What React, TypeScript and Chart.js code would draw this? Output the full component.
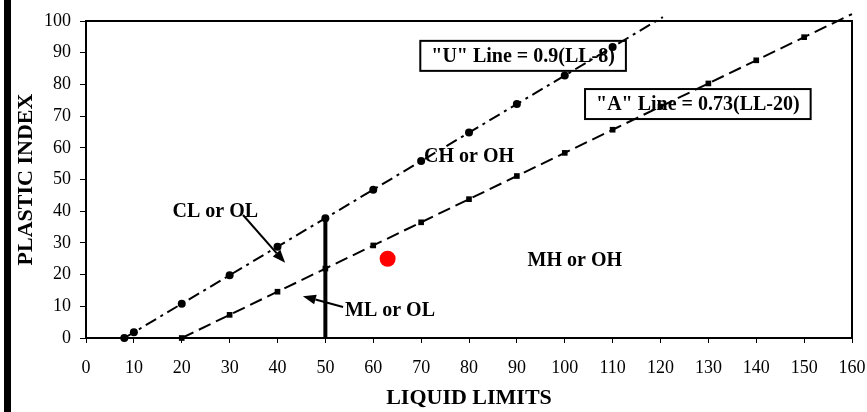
import React, { useEffect, useRef } from "react";
import { Chart, registerables } from "chart.js";

Chart.register(...registerables);

// "U" line: PI = 0.9(LL-8)
const uLineLL = [8, 10, 20, 30, 40, 50, 60, 70, 80, 90, 100, 110, 120.5];
const uLinePI = [0, 1.8, 10.8, 19.8, 28.8, 37.8, 46.8, 55.8, 64.8, 73.8, 82.8, 91.8, 101.25];
// "A" line: PI = 0.73(LL-20)
const aLineLL = [20, 30, 40, 50, 60, 70, 80, 90, 100, 110, 120, 130, 140, 150, 160];
const aLinePI = [0, 7.3, 14.6, 21.9, 29.2, 36.5, 43.8, 51.1, 58.4, 65.7, 73.0, 80.3, 87.6, 94.9, 102.2];
// LL = 50 boundary
const boundaryLL = [50, 50];
const boundaryPI = [0, 37.8];
// sample point
const sampleLL = [63];
const samplePI = [25];

const xMin = 0;
const xMax = 160;
const xStep = 10;
const yMin = 0;
const yMax = 100;
const yStep = 10;

const xTitle = "LIQUID LIMITS";
const yTitle = "PLASTIC INDEX";

const regionLabels = [
  { text: "CL or OL", x: 27, y: 39.7 },
  { text: "CH or OH", x: 80, y: 57.1 },
  { text: "MH or OH", x: 102.1, y: 24.3 },
  { text: "ML or OL", x: 63.5, y: 8.5 },
];
const equationBoxes = [
  { text: '"U" Line = 0.9(LL-8)', x: 91.3, y: 89.0 },
  { text: '"A" Line = 0.73(LL-20)', x: 127.8, y: 73.8 },
];
const arrows = [
  { fx: 32.8, fy: 38.8, tx: 41.6, ty: 23.7 },
  { fx: 53.7, fy: 9.8, tx: 45.3, ty: 13.2 },
];

const FONT = "'Liberation Serif', 'Times New Roman', serif";

const toPts = (xs: number[], ys: number[]) => xs.map((x, i) => ({ x, y: ys[i] }));

const overlayPlugin = {
  id: "overlay",
  beforeDraw(chart: any) {
    const ctx = chart.ctx;
    ctx.save();
    ctx.fillStyle = "#000";
    ctx.fillRect(4, 0, 7, chart.height);
    ctx.restore();
  },
  beforeDatasetsDraw(chart: any) {
    const ctx = chart.ctx;
    const xs = chart.scales.x;
    const ys = chart.scales.y;
    ctx.save();
    ctx.font = `bold 20px ${FONT}`;
    ctx.textAlign = "center";
    ctx.textBaseline = "middle";
    for (const b of equationBoxes) {
      const cx = xs.getPixelForValue(b.x);
      const cy = ys.getPixelForValue(b.y);
      const w = ctx.measureText(b.text).width + 22;
      const h = 30;
      ctx.fillStyle = "#fff";
      ctx.fillRect(cx - w / 2, cy - h / 2, w, h);
      ctx.strokeStyle = "#000";
      ctx.lineWidth = 2;
      ctx.strokeRect(cx - w / 2, cy - h / 2, w, h);
      ctx.fillStyle = "#000";
      ctx.fillText(b.text, cx, cy + 1);
    }
    ctx.restore();
  },
  afterDatasetsDraw(chart: any) {
    const ctx = chart.ctx;
    const xs = chart.scales.x;
    const ys = chart.scales.y;
    ctx.save();
    ctx.font = `bold 20px ${FONT}`;
    ctx.textAlign = "center";
    ctx.textBaseline = "middle";
    ctx.fillStyle = "#000";
    for (const l of regionLabels) {
      ctx.fillText(l.text, xs.getPixelForValue(l.x), ys.getPixelForValue(l.y));
    }
    ctx.strokeStyle = "#000";
    ctx.lineWidth = 2;
    for (const a of arrows) {
      const x1 = xs.getPixelForValue(a.fx);
      const y1 = ys.getPixelForValue(a.fy);
      const x2 = xs.getPixelForValue(a.tx);
      const y2 = ys.getPixelForValue(a.ty);
      const ang = Math.atan2(y2 - y1, x2 - x1);
      const hl = 13;
      const hw = 5;
      const bx = x2 - hl * Math.cos(ang);
      const by = y2 - hl * Math.sin(ang);
      ctx.beginPath();
      ctx.moveTo(x1, y1);
      ctx.lineTo(bx, by);
      ctx.stroke();
      ctx.beginPath();
      ctx.moveTo(x2, y2);
      ctx.lineTo(bx + hw * Math.sin(ang), by - hw * Math.cos(ang));
      ctx.lineTo(bx - hw * Math.sin(ang), by + hw * Math.cos(ang));
      ctx.closePath();
      ctx.fill();
    }
    ctx.restore();
  },
  afterDraw(chart: any) {
    const { left, right, top, bottom } = chart.chartArea;
    const ctx = chart.ctx;
    ctx.save();
    ctx.strokeStyle = "#000";
    ctx.lineWidth = 2;
    ctx.beginPath();
    ctx.moveTo(left, top);
    ctx.lineTo(right, top);
    ctx.lineTo(right, bottom);
    ctx.stroke();
    ctx.restore();
  },
};

export default function App() {
  const ref = useRef<HTMLCanvasElement | null>(null);

  useEffect(() => {
    if (!ref.current) return;
    const chart = new Chart(ref.current, {
      type: "scatter",
      data: {
        datasets: [
          {
            label: "Sample",
            data: toPts(sampleLL, samplePI),
            pointRadius: 8,
            pointBackgroundColor: "#ff0000",
            pointBorderWidth: 0,
            showLine: false,
          },
          {
            label: "U line",
            data: toPts(uLineLL, uLinePI),
            showLine: true,
            borderColor: "#000",
            borderWidth: 2,
            borderDash: [12, 5, 3, 5],
            pointStyle: "circle",
            pointRadius: uLineLL.map((_, i) => (i === uLineLL.length - 1 ? 0 : 4)),
            pointBackgroundColor: "#000",
            pointBorderColor: "#000",
            pointBorderWidth: 0,
            clip: false,
          },
          {
            label: "A line",
            data: toPts(aLineLL, aLinePI),
            showLine: true,
            borderColor: "#000",
            borderWidth: 2,
            borderDash: [13, 6],
            pointStyle: "rect",
            pointRadius: aLineLL.map((_, i) => (i === aLineLL.length - 1 ? 0 : 4)),
            pointBackgroundColor: "#000",
            pointBorderColor: "#000",
            pointBorderWidth: 0,
            clip: false,
          },
          {
            label: "LL 50",
            data: toPts(boundaryLL, boundaryPI),
            showLine: true,
            borderColor: "#000",
            borderWidth: 4,
            pointRadius: 0,
          },
        ],
      },
      options: {
        animation: false,
        responsive: false,
        events: [],
        layout: { padding: { top: 21, right: 15, left: 0, bottom: 0 } },
        plugins: { legend: { display: false }, tooltip: { enabled: false } },
        scales: {
          x: {
            type: "linear",
            min: xMin,
            max: xMax,
            afterFit: (s: any) => {
              s.height = 74;
              s.paddingRight = 0;
              s.paddingLeft = 0;
            },
            ticks: {
              stepSize: xStep,
              color: "#000",
              padding: 14,
              font: { family: FONT, size: 18 },
            },
            grid: {
              drawOnChartArea: false,
              drawTicks: true,
              tickLength: 5,
              color: "#000",
              lineWidth: 1,
            },
            border: { display: true, color: "#000", width: 2 },
            title: {
              display: true,
              text: xTitle,
              color: "#000",
              padding: { top: 0, bottom: 0 },
              font: { family: FONT, size: 22, weight: "bold" },
            },
          },
          y: {
            type: "linear",
            min: yMin,
            max: yMax,
            afterFit: (s: any) => {
              s.width = 86;
              s.paddingTop = 0;
              s.paddingBottom = 0;
            },
            ticks: {
              stepSize: yStep,
              color: "#000",
              padding: 9,
              font: { family: FONT, size: 18 },
            },
            grid: {
              drawOnChartArea: false,
              drawTicks: true,
              tickLength: 6,
              color: "#000",
              lineWidth: 1,
            },
            border: { display: true, color: "#000", width: 2 },
            title: {
              display: true,
              text: yTitle,
              color: "#000",
              padding: { top: 13, bottom: 0 },
              font: { family: FONT, size: 22, weight: "bold" },
            },
          },
        },
      },
      plugins: [overlayPlugin],
    } as any);
    return () => chart.destroy();
  }, []);

  return (
    <div style={{ position: "fixed", left: 0, top: 0, width: 867, height: 412, background: "#fff" }}>
      <canvas ref={ref} width={867} height={412} style={{ width: 867, height: 412, display: "block" }} />
    </div>
  );
}
